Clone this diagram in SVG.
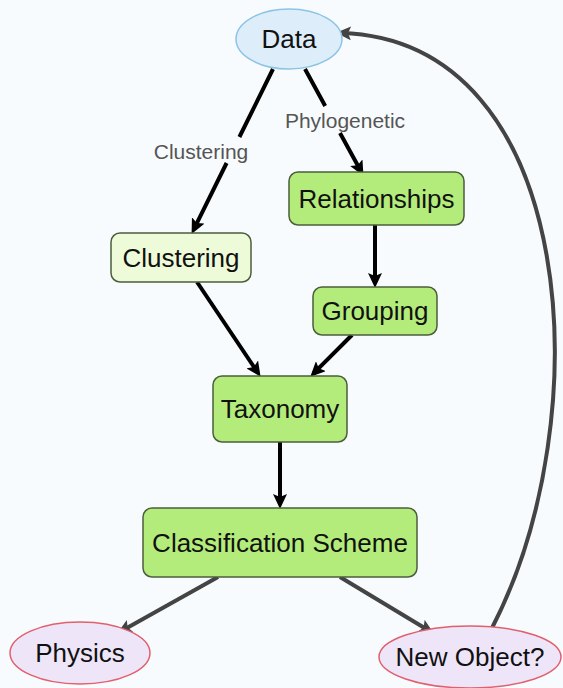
<svg xmlns="http://www.w3.org/2000/svg" width="563" height="688" viewBox="0 0 563 688">
<defs>
<style>
.bg{fill:#f8fbfd}
.box{fill:#b3ec7a;stroke:#4b5e3c;stroke-width:1.5}
.boxl{fill:#eefbd8;stroke:#4b5e3c;stroke-width:1.5}
.blue{fill:#ddeefa;stroke:#8cc4e6;stroke-width:1.5}
.pink{fill:#eee6f8;stroke:#e0606e;stroke-width:1.5}
.t{font-family:"Liberation Sans",Arial,sans-serif;font-size:26px;fill:#111;text-anchor:middle}
.lbl{font-family:"Liberation Sans",Arial,sans-serif;font-size:21px;fill:#555;text-anchor:middle}
.ka{fill:none;stroke:#000;stroke-width:4;marker-end:url(#ah)}
.ga{fill:none;stroke:#444;stroke-width:4;marker-end:url(#ahg)}
</style>
<marker id="ah" markerUnits="userSpaceOnUse" markerWidth="16" markerHeight="14" refX="10" refY="7" orient="auto">
<path d="M0,0 L15,7 L0,14 L3,7 Z" fill="#000"/>
</marker>
<marker id="ahg" markerUnits="userSpaceOnUse" markerWidth="16" markerHeight="14" refX="10" refY="7" orient="auto">
<path d="M0,0 L15,7 L0,14 L3,7 Z" fill="#444"/>
</marker>
</defs>
<rect class="bg" x="0" y="0" width="563" height="688"/>
<g id="connectors">
<path class="ka" d="M273,69 L239.4,137 M226.6,163 L193.8,229.4"/>
<path class="ka" d="M305,69 L325.2,106 M340,133 L361.1,171.5"/>
<path class="ka" d="M375,225 L375,283"/>
<path class="ka" d="M197,282 L257.8,372.7"/>
<path class="ka" d="M352,335 L313.8,373.2"/>
<path class="ka" d="M280,442 L280,504"/>
<path class="ga" d="M218,577 L121.5,631"/>
<path class="ga" d="M340,577 L429.6,631"/>
<path class="ga" d="M492,628 C600,420 580,40 341,33"/>
<text class="lbl" x="201" y="159">Clustering</text>
<text class="lbl" x="345" y="128">Phylogenetic</text>
</g>
<g id="data">
<ellipse class="blue" cx="289" cy="39" rx="53" ry="30"/>
<text class="t" x="289" y="48">Data</text>
</g>
<g id="relationships">
<rect class="box" x="289" y="172" width="175" height="53" rx="9"/>
<text class="t" x="376.5" y="208">Relationships</text>
</g>
<g id="clustering">
<rect class="boxl" x="111" y="233" width="140" height="49" rx="9"/>
<text class="t" x="181" y="267">Clustering</text>
</g>
<g id="grouping">
<rect class="box" x="313" y="287" width="124" height="48" rx="9"/>
<text class="t" x="375" y="320">Grouping</text>
</g>
<g id="taxonomy">
<rect class="box" x="213" y="376" width="134" height="66" rx="9"/>
<text class="t" x="280" y="418">Taxonomy</text>
</g>
<g id="classification">
<rect class="box" x="143" y="508" width="274" height="69" rx="9"/>
<text class="t" x="280" y="552">Classification Scheme</text>
</g>
<g id="physics">
<ellipse class="pink" cx="80" cy="653" rx="70" ry="31"/>
<text class="t" x="80" y="662">Physics</text>
</g>
<g id="newobject">
<ellipse class="pink" cx="470" cy="657" rx="91" ry="31"/>
<text class="t" x="470" y="666">New Object?</text>
</g>
</svg>
